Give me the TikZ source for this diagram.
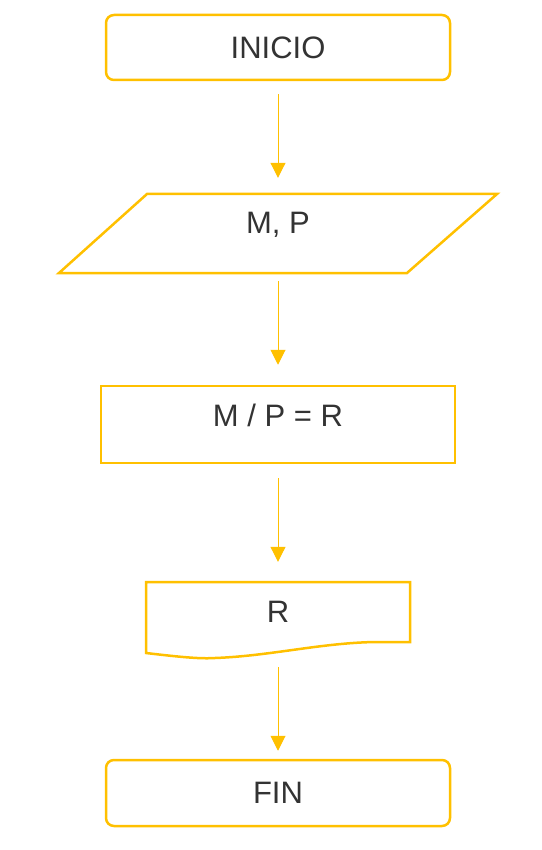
\documentclass[tikz,border=0pt]{standalone}
\usepackage{fontspec}
\setmainfont{Liberation Sans}
\usetikzlibrary{arrows.meta}
\definecolor{gold}{HTML}{FFC000}
\definecolor{txt}{HTML}{333333}
\tikzset{
  shapebox/.style={draw=gold, line width=2.5pt, inner sep=0pt, text=txt, font=\fontsize{31}{36}\selectfont},
  termbox/.style={shapebox, rounded corners=8pt},
  ghost/.style={inner sep=0pt, draw=none},
  lbl/.style={inner sep=0pt, text=txt, font=\fontsize{31}{36}\selectfont},
  outline/.style={draw=gold, line width=2.5pt, line join=miter},
  arr/.style={draw=gold, line width=1pt, -{Triangle[width=15pt,length=15pt]}}
}
\begin{document}
\begin{tikzpicture}[x=1pt,y=-1pt]
\useasboundingbox (0,0) rectangle (541,850);
% INICIO
\node[termbox, minimum width=344pt, minimum height=65pt] (inicio) at (278,47.5) {INICIO};
% M, P parallelogram
\node[ghost, minimum width=438pt, minimum height=79pt] (mp) at (278,233.5) {};
\draw[outline] (147,194) -- (497,194) -- (407,273) -- (59,273) -- cycle;
\node[lbl] (mpt) at (278,225) {M, P};
% process
\node[shapebox, minimum width=354pt, minimum height=77pt] (proc) at (278,424.5) {};
\node[lbl] (proct) at (278,415) {M / P = R};
% document
\node[ghost, minimum width=264pt, minimum height=71pt] (doc) at (278,617.5) {};
\draw[outline] (146,653) -- (146,582) -- (410,582) -- (410,642) -- (375,642)
  .. controls (320,643) and (270,656) .. (215,658)
  .. controls (200,659) and (180,657) .. (146,653) -- cycle;
\node[lbl] (doct) at (278,612) {R};
% FIN
\node[termbox, minimum width=344pt, minimum height=66pt] (fin) at (278,793) {FIN};
% connectors
\draw[arr, shorten <=13pt, shorten >=16pt] (inicio.south) -- (mp.north);
\draw[arr, shorten <=8pt, shorten >=20pt] (mp.south) -- (proc.north);
\draw[arr, shorten <=14pt, shorten >=20pt] (proc.south) -- (doc.north);
\draw[arr, shorten <=14pt, shorten >=8pt] (doc.south) -- (fin.north);
\end{tikzpicture}
\end{document}
